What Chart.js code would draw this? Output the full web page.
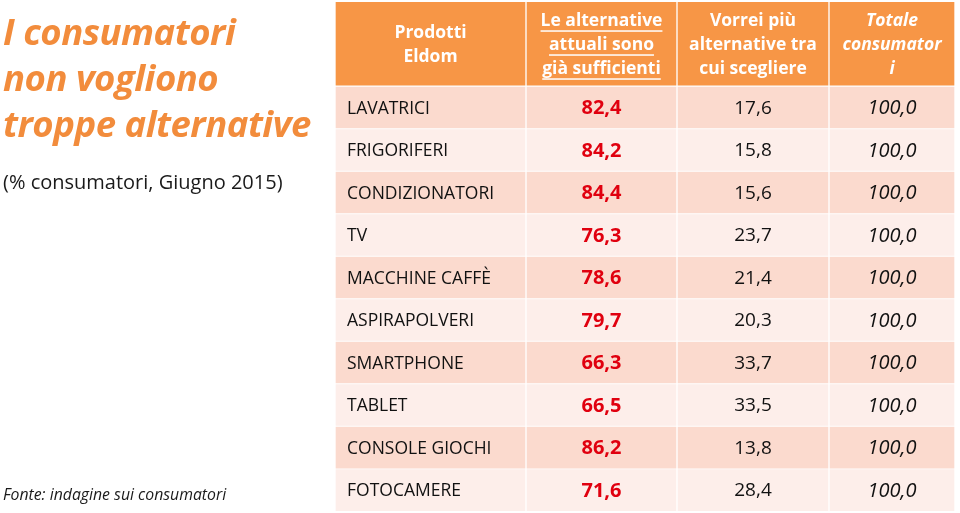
<!DOCTYPE html>
<html lang="it">
<head>
<meta charset="utf-8">
<title>I consumatori non vogliono troppe alternative</title>
<script src="https://cdn.jsdelivr.net/npm/chart.js@4.4.1/dist/chart.umd.min.js"></script>
<style>
  html, body { margin: 0; padding: 0; background: #fff; }
  #wrap { position: relative; width: 960px; height: 513px; overflow: hidden; }
  #tabella { position: absolute; left: 0; top: 0; }
  .titolo { position: absolute; left: 3px; top: 8px; margin: 0; font: italic bold 36.5px/46px "Open Sans", sans-serif; color: #F28C3C; letter-spacing: -0.5px; }
  .sottotitolo { position: absolute; left: 3px; top: 168px; font: 20px "Open Sans", sans-serif; color: #1a1a1a; }
  .fonte { position: absolute; left: 3px; top: 483px; font: italic 15.8px "Open Sans", sans-serif; color: #1a1a1a; }
</style>
</head>
<body>
<div id="wrap">
  <canvas id="tabella" width="960" height="513"></canvas>
  <h1 class="titolo">I consumatori<br>non vogliono<br>troppe alternative</h1>
  <div class="sottotitolo">(% consumatori, Giugno 2015)</div>
  <div class="fonte">Fonte: indagine sui consumatori</div>
</div>
<script>
// dati della tabella
const prodotti = ['LAVATRICI', 'FRIGORIFERI', 'CONDIZIONATORI', 'TV', 'MACCHINE CAFFÈ',
                  'ASPIRAPOLVERI', 'SMARTPHONE', 'TABLET', 'CONSOLE GIOCHI', 'FOTOCAMERE'];
const giaSufficienti = [82.4, 84.2, 84.4, 76.3, 78.6, 79.7, 66.3, 66.5, 86.2, 71.6];
const piuAlternative = [17.6, 15.8, 15.6, 23.7, 21.4, 20.3, 33.7, 33.5, 13.8, 28.4];
const totaleConsumatori = [100, 100, 100, 100, 100, 100, 100, 100, 100, 100];
const intestazioni = [
    ['Prodotti', 'Eldom'],
    ['Le alternative', 'attuali sono', 'già sufficienti'],
    ['Vorrei più', 'alternative tra', 'cui scegliere'],
    ['Totale', 'consumator', 'i']
];

// layout: bordi delle colonne (px) e colori
const colonne = [335, 526, 677, 829, 955];
const coloreRiga = ['#FBDACE', '#FDEEEA'];
const arancio = '#F79646';
const rosso = '#E0000F';

function virgola(v) {
    return v.toFixed(1).replace('.', ',');
}
function cella(c) {
    return [colonne[c] + 1, colonne[c + 1] - 1];
}

var datasets = [{
    label: 'intestazione',
    data: intestazioni.map(function (t, c) { return { x: cella(c), y: 0.5 }; }),
    backgroundColor: arancio,
    barThickness: 83,
    grouped: false
}];
for (var c = 0; c < 4; c++) {
    datasets.push({
        label: 'colonna ' + (c + 1),
        data: prodotti.map(function (p, i) { return { x: cella(c), y: i + 2 }; }),
        backgroundColor: prodotti.map(function (p, i) { return coloreRiga[i % 2]; }),
        barThickness: 41,
        grouped: false
    });
}

// testi delle celle, posizionati con le scale del grafico
var testoCelle = {
    id: 'testoCelle',
    afterDatasetsDraw: function (chart) {
        var ctx = chart.ctx, sx = chart.scales.x, sy = chart.scales.y;
        function centro(c) { return sx.getPixelForValue((colonne[c] + colonne[c + 1]) / 2); }
        ctx.save();
        ctx.textBaseline = 'middle';

        // intestazione
        var yh = sy.getPixelForValue(0.5) + 1.5;
        ctx.fillStyle = '#fff';
        ctx.textAlign = 'center';
        intestazioni.forEach(function (righe, c) {
            ctx.font = (c === 3 ? 'italic ' : '') + 'bold 17.5px "Open Sans"';
            righe.forEach(function (t, k) {
                var yy = yh + (k - (righe.length - 1) / 2) * 24;
                ctx.fillText(t, centro(c), yy);
                if (c === 1) {
                    var w = ctx.measureText(t).width;
                    ctx.fillRect(centro(c) - w / 2, yy + 9, w, 1.5);
                }
            });
        });

        // righe
        prodotti.forEach(function (p, i) {
            var yy = sy.getPixelForValue(i + 2) + 1;
            ctx.textAlign = 'left';
            ctx.fillStyle = '#111';
            ctx.font = '17.5px "Open Sans"';
            ctx.fillText(p, sx.getPixelForValue(colonne[0] + 12), yy);

            ctx.textAlign = 'center';
            ctx.font = 'bold 20px "Open Sans"';
            ctx.fillStyle = rosso;
            ctx.fillText(virgola(giaSufficienti[i]), centro(1), yy);

            ctx.font = '19px "Open Sans"';
            ctx.fillStyle = '#111';
            ctx.fillText(virgola(piuAlternative[i]), centro(2), yy);

            ctx.font = 'italic 20px "Open Sans"';
            ctx.fillText(virgola(totaleConsumatori[i]), centro(3), yy);
        });
        ctx.restore();
    }
};

new Chart(document.getElementById('tabella'), {
    type: 'bar',
    data: { datasets: datasets },
    options: {
        indexAxis: 'y',
        responsive: false,
        animation: false,
        layout: { padding: 0 },
        scales: {
            x: { type: 'linear', min: 0, max: 960, display: false, offset: false, bounds: 'data' },
            y: {
                type: 'linear', min: -0.53, max: 11.54, reverse: true, display: false,
                offset: false, bounds: 'data', grace: 0,
                ticks: { stepSize: 1, includeBounds: false }
            }
        },
        plugins: {
            legend: { display: false },
            tooltip: { enabled: false }
        }
    },
    plugins: [testoCelle]
});
</script>
</body>
</html>
